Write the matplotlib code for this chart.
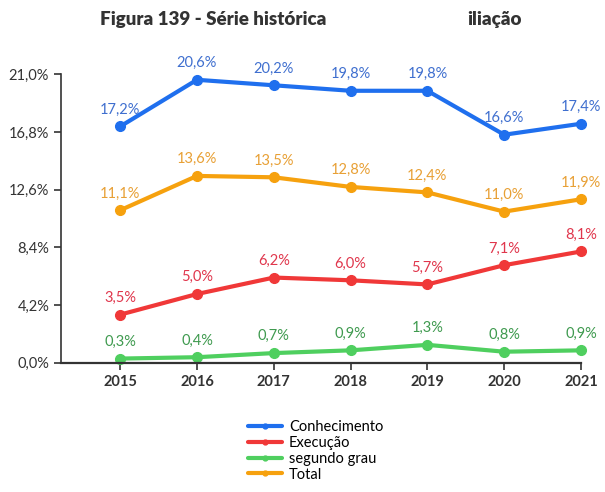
import matplotlib
matplotlib.use("Agg")
import matplotlib.pyplot as plt
from matplotlib.ticker import FuncFormatter

years = [2015, 2016, 2017, 2018, 2019, 2020, 2021]
conhecimento = [17.2, 20.6, 20.2, 19.8, 19.8, 16.6, 17.4]
execucao = [3.5, 5.0, 6.2, 6.0, 5.7, 7.1, 8.1]
segundo_grau = [0.3, 0.4, 0.7, 0.9, 1.3, 0.8, 0.9]
total = [11.1, 13.6, 13.5, 12.8, 12.4, 11.0, 11.9]
y_ticks = [0.0, 4.2, 8.4, 12.6, 16.8, 21.0]

series = [
    ("Conhecimento", conhecimento, "#1f6fee", "#3f6fcf"),
    ("Execução", execucao, "#f03838", "#e0364c"),
    ("segundo grau", segundo_grau, "#4fcf5f", "#3f9a4f"),
    ("Total", total, "#f6a10e", "#e8a035"),
]

plt.rcParams["font.family"] = ["Lato", "DejaVu Sans"]

fig = plt.figure(figsize=(6.05, 4.92), dpi=100)
ax = fig.add_axes([61 / 605, 1 - 362.7 / 492, (581 - 61) / 605, (362.7 - 74.3) / 492])

for name, vals, line_c, text_c in series:
    ax.plot(years, vals, color=line_c, lw=3, marker="o", ms=7,
            label=name, clip_on=False, solid_capstyle="round")
    for x, v in zip(years, vals):
        ax.annotate(f"{v:.1f}%".replace(".", ","), (x, v), xytext=(0, 7),
                    textcoords="offset points", ha="center", va="bottom",
                    fontsize=10.5, color=text_c)

ax.set_xlim(2014.23, 2021)
ax.set_ylim(0, 21)
ax.set_xticks(years)
ax.set_yticks(y_ticks)
ax.yaxis.set_major_formatter(FuncFormatter(lambda v, p: f"{v:.1f}%".replace(".", ",")))
ax.tick_params(labelsize=10.5, colors="#333333", length=5, width=1.2)
for lbl in ax.get_xticklabels():
    lbl.set_fontweight("bold")
for s in ["top", "right"]:
    ax.spines[s].set_visible(False)
for s in ["left", "bottom"]:
    ax.spines[s].set_color("#333333")
    ax.spines[s].set_linewidth(1.2)
ax.spines["bottom"].set_linewidth(1.6)

fig.text(100 / 605, 1 - 20 / 492, "Figura 139 - Série histórica", fontsize=13.5,
         fontweight="heavy", color="#333333", ha="left", va="center")
fig.text(522 / 605, 1 - 20 / 492, "iliação", fontsize=13.5,
         fontweight="heavy", color="#333333", ha="right", va="center")

fig.legend(loc="upper left", bbox_to_anchor=(241 / 605, 1 - 413 / 492),
           frameon=False, fontsize=10.5, handlelength=2.3, handletextpad=0.5,
           labelspacing=0.12, borderpad=0, markerscale=0.5)

fig.savefig("out.png", dpi=100)
